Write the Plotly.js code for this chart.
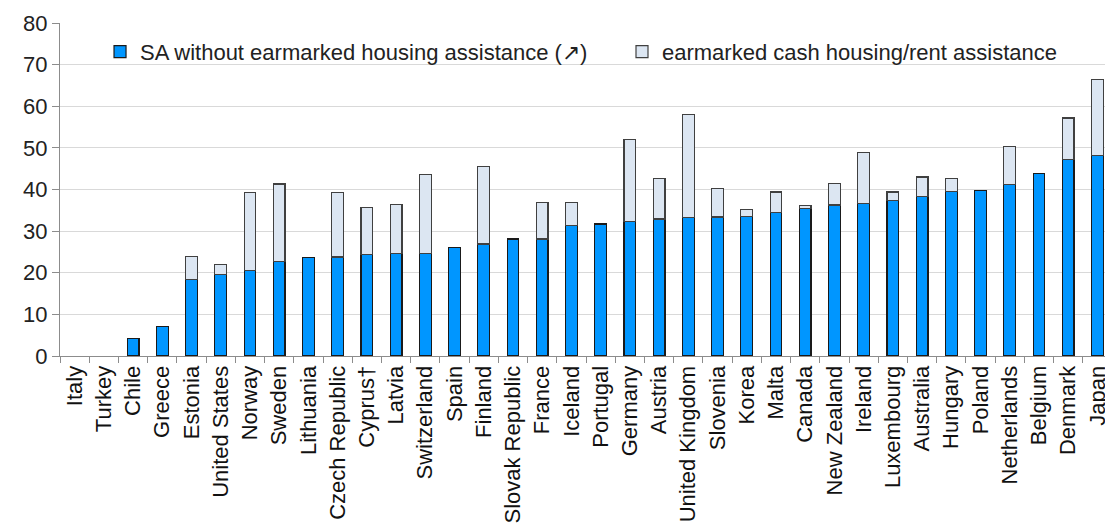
<!DOCTYPE html>
<html><head><meta charset="utf-8">
<script src="https://cdn.plot.ly/plotly-3.0.1.min.js"></script>
<style>body{margin:0;padding:0;background:#fff}#chart{width:1105px;height:532px}</style>
</head><body><div id="chart"></div>
<script>
const countries = ["Italy","Turkey","Chile","Greece","Estonia","United States","Norway","Sweden","Lithuania","Czech Republic","Cyprus\u2020","Latvia","Switzerland","Spain","Finland","Slovak Republic","France","Iceland","Portugal","Germany","Austria","United Kingdom","Slovenia","Korea","Malta","Canada","New Zealand","Ireland","Luxembourg","Australia","Hungary","Poland","Netherlands","Belgium","Denmark","Japan"];
const saWithout = [null,null,4.2,7.1,18.4,19.6,20.6,22.8,23.7,23.8,24.3,24.6,24.6,26.1,26.9,28.1,28.1,31.4,31.7,32.4,32.9,33.2,33.4,33.6,34.4,35.4,36.3,36.6,37.3,38.3,39.5,39.8,41.2,43.8,47.2,48.1];
const earmarked = [null,null,null,null,5.6,2.4,18.7,18.5,null,15.5,11.4,11.8,19.0,null,18.7,null,8.8,5.5,null,19.7,9.7,24.9,6.9,1.6,5.0,0.7,5.2,12.3,2.1,4.7,3.1,null,9.2,null,10.0,18.3];
const seriesNames = ["SA without earmarked housing assistance (\u2197)","earmarked cash housing/rent assistance"];
const yTicks = [0,10,20,30,40,50,60,70,80];

const font = "Liberation Sans, Arial, sans-serif";
const traces = [
  {type:"bar", x:countries, y:saWithout, name:seriesNames[0], legend:"legend",
   marker:{color:"#0096FF", line:{color:"#1a1a1a", width:1.2}}},
  {type:"bar", x:countries, y:earmarked, name:seriesNames[1], legend:"legend2",
   marker:{color:"#DCE6F2", line:{color:"#404040", width:1.2}}}
];
const legBase = {orientation:"h", xanchor:"left", yanchor:"middle", y:0.9137,
  bgcolor:"rgba(0,0,0,0)", font:{family:font, size:22, color:"#222"}};
const layout = {
  width:1105, height:532,
  margin:{l:60, r:0, t:23, b:176, pad:0},
  barmode:"stack", bargap:0.6,
  paper_bgcolor:"#fff", plot_bgcolor:"#fff",
  font:{family:font, size:22, color:"#222"},
  showlegend:true,
  legend:Object.assign({}, legBase, {x:0.0383}),
  legend2:Object.assign({}, legBase, {x:0.5378}),
  xaxis:{type:"category", range:[-0.5, 35.26], showgrid:false,
    showline:true, linecolor:"#8c8c8c", linewidth:1,
    ticks:"outside", tickson:"boundaries", ticklen:6, tickcolor:"#8c8c8c",
    tickangle:-90, tickfont:{family:font, size:22, color:"#111"}},
  yaxis:{range:[0,80], tickvals:yTicks, showgrid:true, gridcolor:"#d9d9d9", gridwidth:1,
    showline:true, linecolor:"#8c8c8c", linewidth:1, zeroline:false,
    ticks:"outside", ticklen:7, tickcolor:"#8c8c8c",
    tickfont:{family:font, size:22, color:"#222"}}
};
Plotly.newPlot("chart", traces, layout, {displayModeBar:false, staticPlot:true});
</script></body></html>
